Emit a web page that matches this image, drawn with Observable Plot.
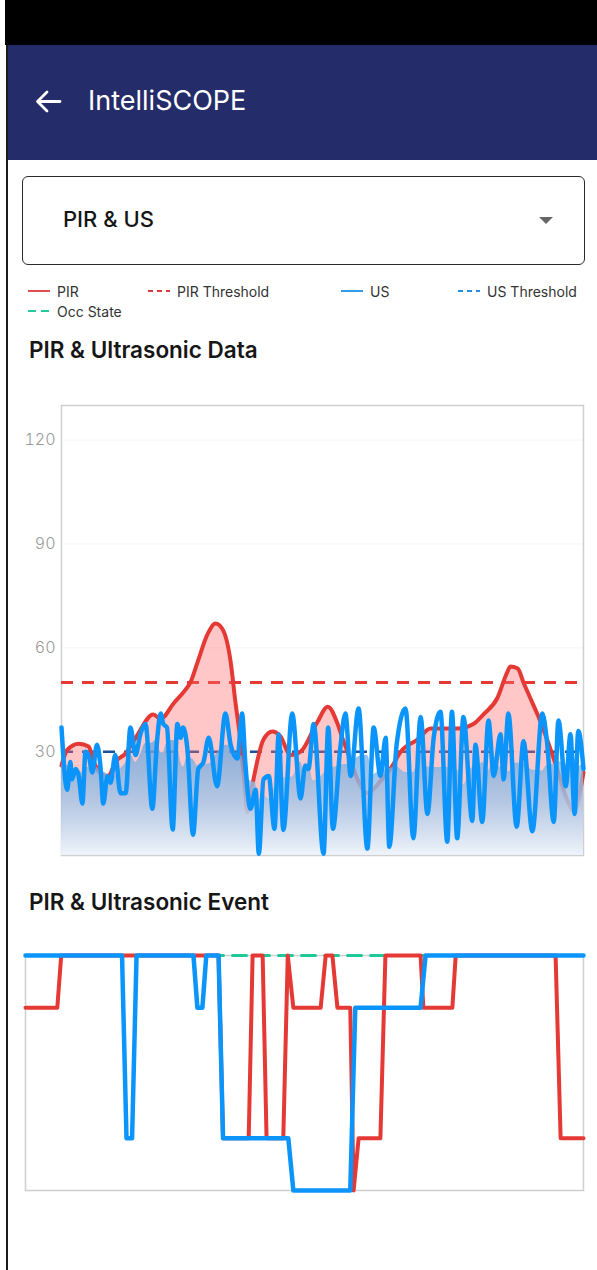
<!DOCTYPE html>
<html><head><meta charset="utf-8">
<script src="https://cdn.jsdelivr.net/npm/d3@7"></script>
<script src="https://cdn.jsdelivr.net/npm/@observablehq/plot@0.6"></script>
<style>
html,body{margin:0;padding:0;background:#fff;}
body{width:597px;height:1270px;position:relative;overflow:hidden;font-family:Inter,"Noto Sans",sans-serif;}
.abs{position:absolute;}
#status{left:5px;top:0;width:592px;height:45px;background:#000;}
#edge{left:6px;top:45px;width:2px;height:1225px;background:#1b1b1b;}
#header{left:7px;top:45px;width:590px;height:115px;background:#242c69;}
#htitle{left:88px;top:83px;font-size:27px;color:#fff;line-height:36px;white-space:nowrap;}
#arrow{left:33px;top:89px;}
#dropdown{left:22px;top:176px;width:561px;height:87px;border:1.5px solid #2b2b2b;border-radius:6px;}
#ddtext{left:40px;top:27px;font-size:22px;font-weight:500;color:#151515;line-height:30px;white-space:nowrap;}
#ddtri{left:516px;top:40px;width:0;height:0;border-left:7px solid transparent;border-right:7px solid transparent;border-top:7px solid #666;}
#legend{left:28px;top:281px;width:565px;display:flex;flex-wrap:wrap;font-size:14px;color:#333;}
.li{display:flex;align-items:center;height:20px;}
.li svg{margin-right:7px;}
.title{left:29px;font-size:22.5px;font-weight:600;color:#161616;line-height:30px;white-space:nowrap;}
</style></head>
<body>
<div id="status" class="abs"></div>
<div id="header" class="abs"></div>
<div id="edge" class="abs"></div>
<svg id="arrow" class="abs" width="30" height="26" viewBox="0 0 30 26"><path d="M27 12.5 H5 M14 3 L4.5 12.5 L14 22" fill="none" stroke="#fff" stroke-width="2.8" stroke-linecap="round" stroke-linejoin="round"/></svg>
<div id="htitle" class="abs">IntelliSCOPE</div>
<div id="dropdown" class="abs"><div id="ddtext" class="abs">PIR &amp; US</div><div id="ddtri" class="abs"></div></div>
<div id="legend" class="abs"></div>
<div class="abs title" style="top:335px">PIR &amp; Ultrasonic Data</div>
<div id="c1" class="abs" style="left:0;top:390px"></div>
<div class="abs title" style="top:887px">PIR &amp; Ultrasonic Event</div>
<div id="c2" class="abs" style="left:0;top:940px"></div>
<script>
// ---- Chart 1: PIR & Ultrasonic Data ----
const yTicks1 = [30, 60, 90, 120];
const pirThreshold = 50;
const usThreshold = 30;
const pirT = [0,1.1,3.3,5.2,6.1,7.5,9.0,10.3,12.3,14.2,17.6,19.0,21.5,23.8,24.7,26.1,28.0,29.5,30.8,32.4,33.3,34.3,35.1,35.6,36.6,38.7,40.4,41.9,43.9,45.8,49.0,51.0,52.9,53.8,54.8,56.7,58.6,61.1,63.0,65.0,68.2,70.7,75.9,78.9,80.8,83.5,85.4,86.0,87.4,88.5,89.8,91.4,94.3,96.9,98.1,100];
const pirV = [26,30.5,32.3,31.5,27.5,23.6,23,27,29.5,34,40.7,39.5,44,48,50,56,64,67,65.5,56,44.5,33,20,12.6,20.7,33.5,35.8,34.5,29,30,38.5,43,38,34,30,22,18,21.5,25,30,33.5,36.7,36.7,38,40.7,45.5,53,54.6,54,50,45.5,40,28,16,12.7,24];
const usT = [0,1.1,1.7,2.0,2.7,3.3,4.0,4.6,5.2,5.9,6.8,7.5,8.0,8.8,9.4,10.3,11.3,12.3,13.2,14.2,15.1,16.1,17.4,18.3,19.0,19.5,20.2,21.3,22.2,22.8,23.3,24.1,25.2,26.2,27.2,28.2,29.8,31.4,32.4,33.7,34.6,35.2,36.2,37.2,37.8,38.7,39.7,40.8,41.6,42.5,44.2,45.8,46.7,47.3,48.3,50.2,51.1,52.0,53.4,54.4,55.4,56.9,58.6,59.8,61.1,62.1,62.8,64.2,65.9,67.4,68.8,70.1,71.3,72.6,73.9,74.8,75.8,77.0,78.7,79.3,80.6,81.8,82.8,84.1,84.7,85.6,87.2,88.5,90.2,92.1,93.0,94.3,95.2,96.6,97.5,98.3,99.0,100];
const usV = [37,19,27,22,25,23,15,30,29,24,32,25,15,23,21,29,18,18,37,29,35,38,13.5,33,41,38,37,7.5,38,34,37,31,6,25,27,34,20,41,32,28,41,27,13.5,19,0.5,22,23,7.7,35,7.4,41,16.5,26,25,38,0.5,37,7.7,31,41,23,42.5,2,37,23,34,2.5,32,42.5,5,40,12,34,41.5,4,41.5,5,40,10,32,9.7,39,23,35,22,41,8.3,33,7,41,33,9.7,39,20,35,12,36,25];

// ---- Chart 2: PIR & Ultrasonic Event ----
const pirEvT = [0,5.7,6.4,34.6,35.4,40.0,40.7,42.5,43.2,46.2,47.0,48.0,52.9,53.8,55.0,55.9,58.2,58.8,59.7,63.6,64.5,70.8,71.3,76.5,77.1,95.0,95.9,100];
const pirEvS = [3.5,3.5,4.5,4.5,1,1,4.5,4.5,1,1,4.5,3.5,3.5,4.5,4.5,3.5,3.5,0,1,1,4.5,4.5,3.5,3.5,4.5,4.5,1,1];
const usEvT = [0,17.3,18.1,19.1,19.9,30.1,30.8,31.7,32.4,34.6,35.4,47.1,48.0,58.2,59.1,70.8,71.7,100];
const usEvS = [4.5,4.5,1,1,4.5,4.5,3.5,3.5,4.5,4.5,1,1,0,0,3.5,3.5,4.5,4.5];
const occT = [0,100];
const occS = [4.5,4.5];

// ---- Legend ----
const legendItems = [
  {label:"PIR", color:"#e03b3b", dash:null, w:120},
  {label:"PIR Threshold", color:"#e03b3b", dash:"5,4", w:193},
  {label:"US", color:"#1e8fe0", dash:null, w:117},
  {label:"US Threshold", color:"#1e8fe0", dash:"5,4", w:null},
  {label:"Occ State", color:"#22c9a0", dash:"8,5", w:null}
];
const leg = document.getElementById("legend");
for (const it of legendItems) {
  const d = document.createElement("div");
  d.className = "li";
  if (it.w) d.style.width = it.w + "px";
  d.innerHTML = `<svg width="22" height="10"><line x1="0" x2="22" y1="5" y2="5" stroke="${it.color}" stroke-width="1.8" ${it.dash ? `stroke-dasharray="${it.dash}"` : ""}/></svg><span>${it.label}</span>`;
  leg.appendChild(d);
}

const zipRows = (ts, vs) => ts.map((t, i) => ({t, v: vs[i]}));
const pirRows = zipRows(pirT, pirV);
const usRows = zipRows(usT, usV);

const gradDefs = () => {
  const defs = document.createElementNS("http://www.w3.org/2000/svg", "defs");
  defs.innerHTML = `<linearGradient id="usGrad" x1="0" y1="0" x2="0" y2="1">
    <stop offset="0" stop-color="#5a9fdc" stop-opacity="0.7"/>
    <stop offset="0.55" stop-color="#a9c8e8" stop-opacity="0.85"/>
    <stop offset="1" stop-color="#eef5fc" stop-opacity="0.97"/></linearGradient>`;
  return defs;
};

const chart1 = Plot.plot({
  width: 597, height: 480,
  marginTop: 15, marginBottom: 15, marginLeft: 61, marginRight: 14,
  x: {domain: [0, 100], axis: null},
  y: {domain: [0, 130], axis: null},
  style: {fontFamily: "Inter, sans-serif", background: "transparent", overflow: "visible"},
  marks: [
    gradDefs,
    Plot.gridY(yTicks1, {stroke: "#000", strokeOpacity: 0.04}),
    Plot.frame({stroke: "#cfcfcf", strokeWidth: 1.5}),
    Plot.ruleY([pirThreshold], {stroke: "#e53935", strokeWidth: 3, strokeDasharray: "12,9"}),
    Plot.ruleY([usThreshold], {stroke: "#1c4f9a", strokeWidth: 2.5, strokeDasharray: "12,9"}),
    Plot.areaY(pirRows, {x: "t", y: "v", curve: "monotone-x", fill: "#ff6b6b", fillOpacity: 0.38}),
    Plot.lineY(pirRows, {x: "t", y: "v", curve: "monotone-x", stroke: "#e53935", strokeWidth: 4}),
    Plot.areaY(usRows, Plot.windowY({k: 7, reduce: "mean"}, {x: "t", y: "v", curve: "monotone-x", fill: "url(#usGrad)"})),
    Plot.lineY(usRows, {x: "t", y: "v", curve: "monotone-x", stroke: "#0b95fb", strokeWidth: 4.5}),
    Plot.axisY(yTicks1, {label: null, tickSize: 0, tickPadding: 6, fontSize: 16, fill: "#9a9a9a", fontWeight: 300})
  ]
});
document.getElementById("c1").appendChild(chart1);

const chart2 = Plot.plot({
  width: 597, height: 265,
  marginTop: 15, marginBottom: 15, marginLeft: 25, marginRight: 14,
  x: {domain: [0, 100], axis: null},
  y: {domain: [0, 4.5], axis: null},
  style: {background: "transparent", overflow: "visible"},
  marks: [
    Plot.frame({stroke: "#cfcfcf", strokeWidth: 1.5}),
    Plot.lineY(zipRows(occT, occS), {x: "t", y: "v", stroke: "#1fc99a", strokeWidth: 3, strokeDasharray: "14,9"}),
    Plot.lineY(zipRows(pirEvT, pirEvS), {x: "t", y: "v", stroke: "#e53935", strokeWidth: 4}),
    Plot.lineY(zipRows(usEvT, usEvS), {x: "t", y: "v", stroke: "#0b95fb", strokeWidth: 4.5})
  ]
});
document.getElementById("c2").appendChild(chart2);
</script>
</body></html>
